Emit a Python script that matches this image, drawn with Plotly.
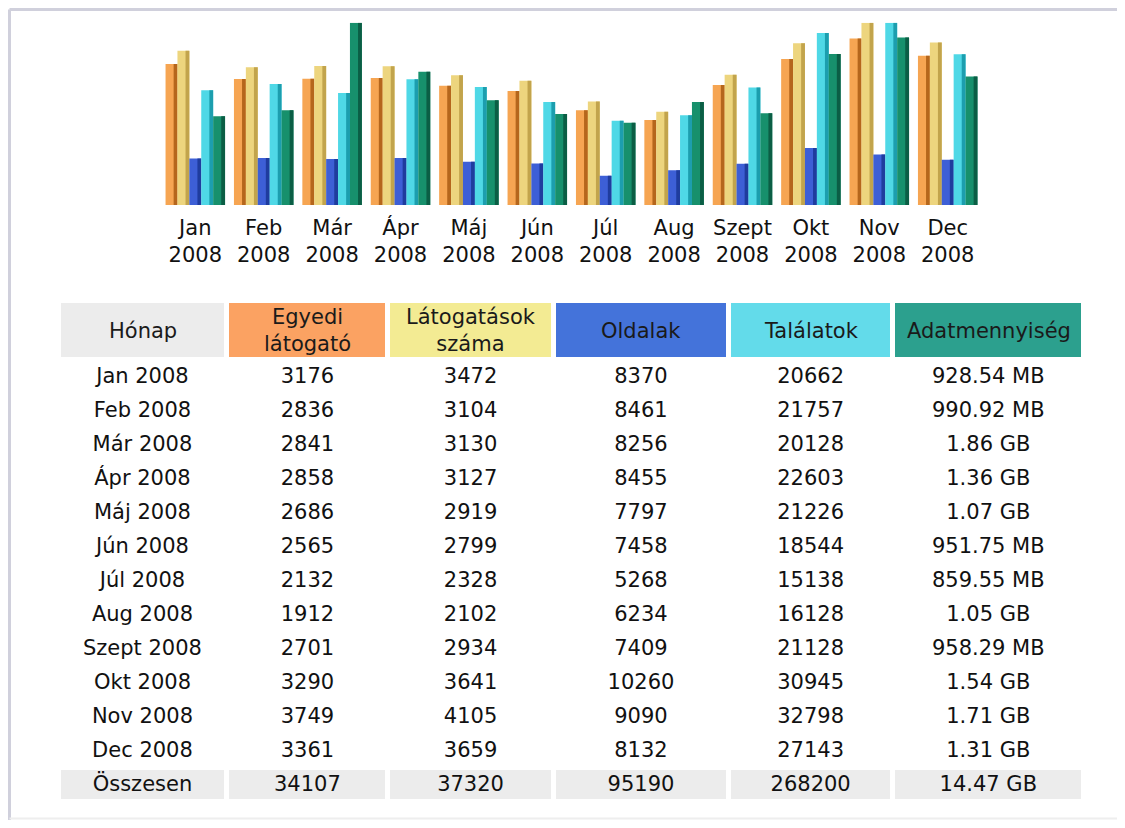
import plotly.graph_objects as go

# ---------------- data ----------------
months_short = ["Jan", "Feb", "Már", "Ápr", "Máj", "Jún", "Júl", "Aug", "Szept", "Okt", "Nov", "Dec"]
year = "2008"
unique_visitors = [3176, 2836, 2841, 2858, 2686, 2565, 2132, 1912, 2701, 3290, 3749, 3361]
visits = [3472, 3104, 3130, 3127, 2919, 2799, 2328, 2102, 2934, 3641, 4105, 3659]
pages = [8370, 8461, 8256, 8455, 7797, 7458, 5268, 6234, 7409, 10260, 9090, 8132]
hits = [20662, 21757, 20128, 22603, 21226, 18544, 15138, 16128, 21128, 30945, 32798, 27143]
bandwidth_mb = [928.54, 990.92, 1904.64, 1392.64, 1095.68, 951.75, 859.55, 1075.20, 958.29, 1576.96, 1751.04, 1341.44]
bandwidth_text = ["928.54 MB", "990.92 MB", "1.86 GB", "1.36 GB", "1.07 GB", "951.75 MB", "859.55 MB",
                  "1.05 GB", "958.29 MB", "1.54 GB", "1.71 GB", "1.31 GB"]
total_label = "Összesen"
totals = ["34107", "37320", "95190", "268200", "14.47 GB"]
headers = ["Hónap", "Egyedi<br>látogató", "Látogatások<br>száma", "Oldalak", "Találatok", "Adatmennyiség"]

# ---------------- styles ----------------
PAGE_OFF = 8          # default body margin of the html page
W, H = 1117, 812
FONT = "DejaVu Sans"
FS = 21
light_cols = ["#F6A552", "#EDD57E", "#3D5FD6", "#4FD8E6", "#17906C"]
dark_cols = ["#B5661C", "#C2A44C", "#1F3C9E", "#1C9EAE", "#0B5E45"]
header_fill = ["#ECECEC", "#FBA262", "#F3EB93", "#4473DA", "#63DBEA", "#2CA08E"]
col_widths = [169, 161, 165.5, 175.5, 164, 191.5]


def px_x(p):
    return (p - PAGE_OFF) / W


def px_y(p):
    return 1 - (p - PAGE_OFF) / H


x = list(range(len(months_short)))
series = [unique_visitors, visits, pages, hits, bandwidth_mb]
axes = ["y", "y", "y2", "y2", "y3"]
n = len(series)
pitch_px = 68.4
bw = 11.9 / pitch_px
start = -n * bw / 2

fig = go.Figure()
for i, (vals, ax) in enumerate(zip(series, axes)):
    off = start + i * bw
    fig.add_trace(go.Bar(x=x, y=vals, yaxis=ax, width=bw, offset=off,
                         marker=dict(color=light_cols[i], line=dict(width=0)),
                         showlegend=False, hoverinfo="skip"))
    fig.add_trace(go.Bar(x=x, y=vals, yaxis=ax, width=bw * 0.32, offset=off + bw * 0.68,
                         marker=dict(color=dark_cols[i], line=dict(width=0)),
                         showlegend=False, hoverinfo="skip"))

# ---------------- table ----------------
tab_left, tab_right = 58, 1084.5
tab_top, head_h, row_h = 300, 59, 34.0
month_labels = [f"{m} {year}" for m in months_short] + [total_label]
col_values = [
    month_labels,
    [str(v) for v in unique_visitors] + [totals[0]],
    [str(v) for v in visits] + [totals[1]],
    [str(v) for v in pages] + [totals[2]],
    [str(v) for v in hits] + [totals[3]],
    bandwidth_text + [totals[4]],
]
nrows = len(month_labels)
cell_fill = [["#FFFFFF"] * (nrows - 1) + ["#ECECEC"] for _ in col_values]

fig.add_trace(go.Table(
    domain=dict(x=[px_x(tab_left), px_x(tab_right)], y=[0, px_y(tab_top)]),
    columnwidth=col_widths,
    header=dict(values=[""] * len(headers), fill_color=header_fill, align="center",
                line=dict(color="#FFFFFF", width=5), height=head_h,
                font=dict(family=FONT, size=FS, color="#1a1a1a")),
    cells=dict(values=col_values, fill_color=cell_fill, align="center",
               line=dict(color="#FFFFFF", width=5), height=row_h,
               font=dict(family=FONT, size=FS, color="#111111")),
))

# header labels centred in the header cells
annotations = []
tot_w = sum(col_widths)
acc = 0
for hdr, cw in zip(headers, col_widths):
    cx = tab_left + (acc + cw / 2) / tot_w * (tab_right - tab_left)
    acc += cw
    annotations.append(dict(x=px_x(cx), y=px_y(tab_top + head_h / 2 + 1), xref="paper", yref="paper",
                            text=hdr, showarrow=False, xanchor="center", yanchor="middle",
                            align="center", font=dict(family=FONT, size=FS, color="#1a1a1a")))

ydom = [px_y(205), px_y(22.7)]
fig.update_layout(
    width=W, height=H,
    margin=dict(l=0, r=0, t=0, b=0),
    paper_bgcolor="#FFFFFF", plot_bgcolor="rgba(0,0,0,0)",
    barmode="overlay",
    font=dict(family=FONT, size=FS, color="#111111"),
    xaxis=dict(domain=[px_x(161.1), px_x(161.1 + 12 * pitch_px)], range=[-0.5, 11.5],
               tickmode="array", tickvals=x,
               ticktext=[f"{m}<br>{year}" for m in months_short],
               showgrid=False, zeroline=False, showline=False, ticks="",
               ticklabelstandoff=8,
               tickfont=dict(family=FONT, size=FS, color="#111111"), fixedrange=True),
    yaxis=dict(domain=ydom, range=[0, max(visits)], visible=False, fixedrange=True),
    yaxis2=dict(domain=ydom, range=[0, max(hits)], overlaying="y", visible=False, fixedrange=True),
    yaxis3=dict(domain=ydom, range=[0, max(bandwidth_mb)], overlaying="y", visible=False, fixedrange=True),
    annotations=annotations,
    shapes=[
        dict(type="line", xref="paper", yref="paper", x0=px_x(9.5), x1=1.0, y0=px_y(9.5), y1=px_y(9.5),
             line=dict(color="#D0D0DC", width=3)),
        dict(type="line", xref="paper", yref="paper", x0=px_x(9.5), x1=px_x(9.5), y0=px_y(9.5), y1=0,
             line=dict(color="#D0D0DC", width=3)),
        dict(type="line", xref="paper", yref="paper", x0=px_x(9.5), x1=1.0, y0=px_y(818.5), y1=px_y(818.5),
             line=dict(color="#EEEEEE", width=2)),
    ],
)

fig.write_html("out.html")
